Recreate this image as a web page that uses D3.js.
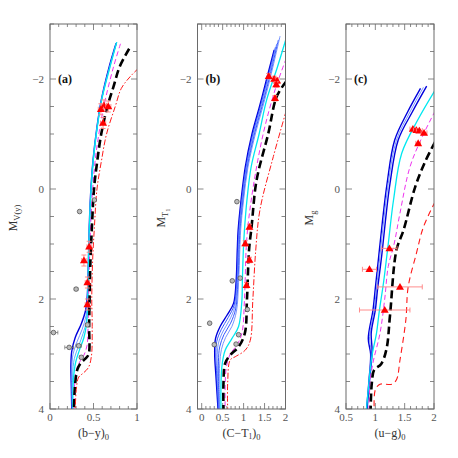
<!DOCTYPE html>
<html><head><meta charset="utf-8">
<script src="https://cdn.jsdelivr.net/npm/d3@7"></script>
<style>body{margin:0;background:#fff}svg{display:block}</style>
</head><body>
<svg id="chart" width="458" height="458"></svg>
<script>
// ---------- DATA ----------
const yDomain = [-3, 4];
const yTickLabels = [-2, 0, 2, 4];
const panelNames = ["(a)", "(b)", "(c)"];
const xDomainA = [0, 1], xDomainB = [-0.1, 2], xDomainC = [0.5, 2];
const xTickLabelsA = [0, 0.5, 1], xTickLabelsB = [0, 0.5, 1, 1.5, 2], xTickLabelsC = [0.5, 1, 1.5, 2];

// Panel (a): [colour index, magnitude]
const aBlue1 = [[0.76,-2.65],[0.68,-2.22],[0.59,-1.62],[0.54,-1.13],[0.495,-0.53],[0.465,0.14],[0.45,0.75],[0.44,1.4],[0.43,1.9],[0.41,2.2],[0.36,2.45],[0.29,2.7],[0.25,2.95],[0.24,3.2],[0.245,3.6],[0.25,4.0]];
const aBlue2 = [[0.765,-2.66],[0.685,-2.22],[0.592,-1.62],[0.542,-1.13],[0.497,-0.53],[0.467,0.14],[0.451,0.75],[0.441,1.4],[0.432,1.95],[0.415,2.3],[0.37,2.55],[0.31,2.78],[0.265,3.0],[0.25,3.3],[0.25,3.7],[0.255,4.0]];
const aBlue3 = [[0.766,-2.66],[0.688,-2.22],[0.593,-1.62],[0.543,-1.13],[0.497,-0.53],[0.467,0.14],[0.451,0.75],[0.441,1.4],[0.433,2.0],[0.418,2.4],[0.38,2.63],[0.33,2.85],[0.28,3.08],[0.26,3.4],[0.258,4.0]];
const aCyan = [[0.767,-2.67],[0.69,-2.22],[0.594,-1.62],[0.544,-1.13],[0.498,-0.53],[0.468,0.14],[0.452,0.75],[0.442,1.4],[0.435,2.05],[0.42,2.45],[0.39,2.7],[0.34,2.92],[0.295,3.15],[0.27,3.45],[0.262,4.0]];
const aMagenta = [[0.81,-2.64],[0.73,-2.22],[0.635,-1.62],[0.575,-1.13],[0.52,-0.53],[0.485,0.14],[0.465,0.75],[0.452,1.4],[0.443,2.0],[0.438,2.5],[0.425,2.85],[0.39,3.02],[0.35,3.12],[0.31,3.25],[0.285,3.5],[0.275,4.0]];
const aBlack = [[0.91,-2.55],[0.80,-2.22],[0.73,-1.86],[0.66,-1.5],[0.59,-1.01],[0.54,-0.47],[0.506,0],[0.48,0.75],[0.465,1.3],[0.455,2.0],[0.45,2.5],[0.445,3.0],[0.41,3.08],[0.36,3.15],[0.315,3.28],[0.29,3.53],[0.275,4.0]];
const aRed = [[1.02,-2.2],[0.92,-2.04],[0.82,-1.83],[0.75,-1.5],[0.65,-1.0],[0.59,-0.5],[0.54,0],[0.51,0.7],[0.49,1.3],[0.48,2.0],[0.485,2.5],[0.475,3.05],[0.44,3.25],[0.38,3.35],[0.33,3.42],[0.305,3.6],[0.29,4.0]];
// red triangles: [colour, mag, xerr, yerr]
const aTriangles = [[0.62,-1.52,0.03,0.1],[0.67,-1.5,0.03,0.1],[0.585,-1.45,0.03,0.1],[0.61,-1.2,0.03,0.1],[0.45,1.05,0.025,0.1],[0.39,1.3,0.025,0.1],[0.43,1.7,0.025,0.1],[0.43,2.1,0.025,0.1]];
// grey open circles: [colour, mag, xerr]
const aCircles = [[0.34,0.41,0.01],[0.51,0.2,0.0],[0.30,1.82,0.02],[0.04,2.61,0.05],[0.22,2.88,0.05],[0.33,2.85,0.03],[0.43,2.47,0.02],[0.36,3.06,0.02]];

// Panel (b)
const bBlue1 = [[1.73,-2.53],[1.55,-2.0],[1.38,-1.5],[1.20,-1.0],[1.04,-0.4],[0.94,0.2],[0.87,0.75],[0.85,1.1],[0.82,1.7],[0.76,2.08],[0.60,2.3],[0.44,2.5],[0.33,2.72],[0.31,3.0],[0.34,3.4],[0.39,4.0]];
const bBlue2 = [[1.76,-2.58],[1.57,-2.0],[1.40,-1.5],[1.22,-1.0],[1.06,-0.4],[0.955,0.2],[0.885,0.75],[0.865,1.1],[0.835,1.7],[0.775,2.11],[0.63,2.34],[0.47,2.55],[0.36,2.77],[0.34,3.04],[0.36,3.4],[0.40,4.0]];
const bBlue3 = [[1.79,-2.64],[1.59,-2.0],[1.42,-1.5],[1.24,-1.0],[1.075,-0.4],[0.97,0.2],[0.90,0.75],[0.88,1.1],[0.85,1.7],[0.79,2.14],[0.66,2.39],[0.50,2.6],[0.395,2.82],[0.37,3.08],[0.38,3.45],[0.41,4.0]];
const bBlue4 = [[1.83,-2.71],[1.61,-2.0],[1.44,-1.5],[1.26,-1.0],[1.09,-0.4],[0.985,0.2],[0.915,0.75],[0.895,1.1],[0.865,1.7],[0.81,2.18],[0.69,2.44],[0.53,2.65],[0.43,2.87],[0.40,3.13],[0.40,3.5],[0.42,4.0]];
const bBlue5 = [[1.87,-2.78],[1.63,-2.0],[1.46,-1.5],[1.28,-1.0],[1.105,-0.4],[1.0,0.2],[0.93,0.75],[0.91,1.1],[0.88,1.7],[0.83,2.22],[0.72,2.5],[0.57,2.7],[0.47,2.92],[0.43,3.18],[0.42,3.55],[0.43,4.0]];
const bCyan = [[2.02,-2.75],[1.80,-2.2],[1.55,-1.62],[1.37,-1.0],[1.18,-0.4],[1.08,0.2],[1.02,0.75],[0.995,1.1],[0.97,1.7],[0.96,2.02],[0.88,2.5],[0.72,2.72],[0.56,2.93],[0.48,3.24],[0.46,4.0]];
const bMagenta = [[2.02,-2.38],[1.75,-1.8],[1.47,-1.01],[1.23,-0.04],[1.10,0.7],[1.06,1.11],[1.02,2.02],[0.96,2.62],[0.84,2.84],[0.68,3.0],[0.58,3.29],[0.56,4.0]];
const bBlack = [[2.02,-1.96],[1.79,-1.68],[1.59,-1.01],[1.31,-0.16],[1.19,0.69],[1.13,1.11],[1.08,2.02],[1.03,2.62],[0.88,2.87],[0.68,3.02],[0.56,3.17],[0.52,3.53],[0.52,4.0]];
const bRed = [[2.02,-1.43],[1.71,-0.59],[1.39,0.38],[1.29,1.11],[1.22,2.02],[1.16,2.75],[1.04,2.93],[0.80,3.05],[0.68,3.11],[0.62,3.53],[0.62,4.0]];
const bTriangles = [[1.60,-2.05,0.03,0.05],[1.73,-2.0,0.03,0.05],[1.80,-1.97,0.03,0.05],[1.78,-1.9,0.03,0.05],[1.75,-1.65,0.03,0.05],[1.14,0.69,0.03,0.05],[1.04,0.99,0.03,0.05],[1.14,1.29,0.03,0.05],[1.07,1.75,0.03,0.05]];
const bCircles = [[0.84,0.23,0.0],[0.73,1.67,0.02],[0.92,1.62,0.02],[0.19,2.44,0.0],[0.30,2.83,0.02],[0.88,2.65,0.02],[1.09,2.19,0.02],[0.82,2.82,0.02]];

// Panel (c)
const cBlue1 = [[1.77,-1.83],[1.55,-1.4],[1.33,-0.89],[1.20,-0.1],[1.12,0.6],[1.06,1.2],[1.0,1.8],[0.96,2.2],[0.88,2.72],[0.92,3.0],[0.89,3.5],[0.85,4.0]];
const cBlue2 = [[1.82,-1.85],[1.59,-1.4],[1.36,-0.89],[1.22,-0.1],[1.14,0.6],[1.08,1.2],[1.02,1.8],[0.98,2.2],[0.90,2.68],[0.93,2.98],[0.89,3.5],[0.855,4.0]];
const cBlue3 = [[1.875,-1.87],[1.63,-1.4],[1.39,-0.89],[1.25,-0.1],[1.17,0.6],[1.11,1.2],[1.04,1.8],[1.0,2.2],[0.93,2.62],[0.945,2.95],[0.90,3.5],[0.86,4.0]];
const cCyan = [[2.02,-1.8],[1.72,-1.25],[1.45,-0.65],[1.31,0.2],[1.22,1.0],[1.14,1.7],[1.07,2.2],[1.02,2.62],[0.94,3.05],[0.88,3.65],[0.85,4.0]];
const cMagenta = [[2.02,-1.42],[1.80,-0.95],[1.59,-0.4],[1.42,0.44],[1.32,1.0],[1.22,1.41],[1.16,2.0],[1.08,2.62],[0.97,3.11],[0.92,3.41],[0.89,4.0]];
const cBlack = [[2.02,-0.86],[1.85,-0.5],[1.68,-0.04],[1.48,0.75],[1.36,1.11],[1.25,2.3],[1.19,2.91],[1.10,3.18],[0.98,3.29],[0.94,3.53],[0.92,4.0]];
const cRed = [[2.02,0.23],[1.82,0.69],[1.70,1.17],[1.56,1.78],[1.52,2.38],[1.42,3.11],[1.36,3.47],[1.28,3.55],[1.08,3.55],[1.0,3.65],[0.98,4.0]];
const cTriangles = [[1.64,-1.09,0.05,0],[1.70,-1.07,0.05,0],[1.75,-1.06,0.05,0],[1.83,-1.02,0.05,0],[1.73,-0.83,0.04,0],[1.24,1.08,0.13,0],[0.90,1.46,0.12,0],[1.42,1.78,0.38,0],[1.16,2.2,0.43,0]];
const cCircles = [];

// ---------- STYLES ----------
const S = {
  blueDark: {stroke:"#0000dd", w:1.4, dash:null},
  blueMid:  {stroke:"#3355ff", w:1.0, dash:null},
  blueLight:{stroke:"#6688ff", w:0.9, dash:null},
  blueSky:  {stroke:"#44aaff", w:0.9, dash:null},
  cyan:     {stroke:"#00e8f0", w:1.3, dash:null},
  magenta:  {stroke:"#ee33ee", w:1.0, dash:"5,3"},
  black:    {stroke:"#000000", w:2.6, dash:"8,4"},
  redDD:    {stroke:"#ff1a1a", w:1.0, dash:"6,2,1.5,2"},
  redD:     {stroke:"#ff1a1a", w:1.1, dash:"6,4"}
};

const panels = [
  {name:panelNames[0], x0:50, x1:137, dom:xDomainA, ticks:xTickLabelsA, xlab:["(b−y)","0"], ylab:["M","V(y)",""],
   lines:[[aBlue1,S.blueDark],[aBlue2,S.blueLight],[aBlue3,S.blueSky],[aCyan,S.cyan],[aMagenta,S.magenta],[aBlack,S.black],[aRed,S.redDD]],
   tri:aTriangles, circ:aCircles},
  {name:panelNames[1], x0:197.5, x1:285.5, dom:xDomainB, ticks:xTickLabelsB, xlab:["(C−T","1",")","0"], ylab:["M","T","1"],
   lines:[[bBlue1,S.blueDark],[bBlue2,S.blueMid],[bBlue3,S.blueLight],[bBlue4,S.blueMid],[bBlue5,S.blueLight],[bCyan,S.cyan],[bMagenta,S.magenta],[bBlack,S.black],[bRed,S.redDD]],
   tri:bTriangles, circ:bCircles},
  {name:panelNames[2], x0:346, x1:434, dom:xDomainC, ticks:xTickLabelsC, xlab:["(u−g)","0"], ylab:["M","g",""],
   lines:[[cBlue1,S.blueDark],[cBlue2,S.blueLight],[cBlue3,S.blueDark],[cCyan,S.cyan],[cMagenta,S.magenta],[cBlack,S.black],[cRed,S.redD]],
   tri:cTriangles, circ:cCircles}
];

const svg = d3.select("#chart");
svg.append("rect").attr("width",458).attr("height",458).attr("fill","#fff");
const Y0 = 24, Y1 = 409;
const font = "Liberation Serif, Times New Roman, DejaVu Serif, serif";
const frameCol = "#6a6a6a";

panels.forEach((p, i) => {
  const x = d3.scaleLinear().domain(p.dom).range([p.x0, p.x1]);
  const y = d3.scaleLinear().domain(yDomain).range([Y0, Y1]);
  const g = svg.append("g");
  const clipId = "clip" + i;
  svg.append("clipPath").attr("id", clipId).append("rect")
    .attr("x", p.x0).attr("y", Y0).attr("width", p.x1 - p.x0).attr("height", Y1 - Y0);

  // x ticks: minor every 0.1, major every 0.5
  const xt = d3.range(Math.ceil(p.dom[0]*10), Math.floor(p.dom[1]*10)+1).map(v => v/10);
  xt.forEach(v => {
    const major = Math.abs(v*2 - Math.round(v*2)) < 1e-6;
    const len = major ? 6 : 3;
    g.append("line").attr("x1",x(v)).attr("x2",x(v)).attr("y1",Y1).attr("y2",Y1-len).attr("stroke",frameCol).attr("stroke-width",0.8);
    g.append("line").attr("x1",x(v)).attr("x2",x(v)).attr("y1",Y0).attr("y2",Y0+len).attr("stroke",frameCol).attr("stroke-width",0.8);
  });
  // y ticks every 0.5
  const yt = d3.range(-6, 9).map(v => v/2);
  yt.forEach(v => {
    const major = yTickLabels.includes(v);
    const len = major ? 6 : 4;
    g.append("line").attr("x1",p.x0).attr("x2",p.x0+len).attr("y1",y(v)).attr("y2",y(v)).attr("stroke",frameCol).attr("stroke-width",0.8);
    g.append("line").attr("x1",p.x1).attr("x2",p.x1-len).attr("y1",y(v)).attr("y2",y(v)).attr("stroke",frameCol).attr("stroke-width",0.8);
  });
  // tick labels
  p.ticks.forEach(v => {
    g.append("text").attr("x", x(v)).attr("y", Y1 + 12).attr("text-anchor","middle")
      .attr("font-family", font).attr("font-size", 11).attr("fill","#555").text(String(v));
  });
  yTickLabels.forEach(v => {
    g.append("text").attr("x", p.x0 - 6).attr("y", y(v) + 3.5).attr("text-anchor","end")
      .attr("font-family", font).attr("font-size", 11).attr("fill","#555").text(v < 0 ? "−" + Math.abs(v) : String(v));
  });

  // isochrone lines
  const lg = g.append("g").attr("clip-path", `url(#${clipId})`);
  const line = d3.line().x(d => x(d[0])).y(d => y(d[1])).curve(d3.curveCatmullRom.alpha(0.5));
  p.lines.forEach(([data, st]) => {
    lg.append("path").attr("d", line(data)).attr("fill","none")
      .attr("stroke", st.stroke).attr("stroke-width", st.w)
      .attr("stroke-dasharray", st.dash).attr("stroke-linecap","butt");
  });

  // grey circles with error bars
  p.circ.forEach(d => {
    const cx = x(d[0]), cy = y(d[1]);
    if (d[2] > 0) {
      lg.append("line").attr("x1", x(d[0]-d[2])).attr("x2", x(d[0]+d[2])).attr("y1", cy).attr("y2", cy).attr("stroke","#777").attr("stroke-width",0.8);
      [d[0]-d[2], d[0]+d[2]].forEach(e => lg.append("line").attr("x1",x(e)).attr("x2",x(e)).attr("y1",cy-2).attr("y2",cy+2).attr("stroke","#777").attr("stroke-width",0.8));
    }
    lg.append("circle").attr("cx", cx).attr("cy", cy).attr("r", 2.3).attr("fill","#bbb").attr("stroke","#555").attr("stroke-width",0.8);
  });

  // red triangles with error bars
  const errCol = "#ff8080";
  p.tri.forEach(d => {
    const cx = x(d[0]), cy = y(d[1]);
    if (d[2] > 0) {
      lg.append("line").attr("x1", x(d[0]-d[2])).attr("x2", x(d[0]+d[2])).attr("y1", cy).attr("y2", cy).attr("stroke",errCol).attr("stroke-width",0.9);
      [d[0]-d[2], d[0]+d[2]].forEach(e => lg.append("line").attr("x1",x(e)).attr("x2",x(e)).attr("y1",cy-2.5).attr("y2",cy+2.5).attr("stroke",errCol).attr("stroke-width",0.9));
    }
    if (d[3] > 0) {
      lg.append("line").attr("x1", cx).attr("x2", cx).attr("y1", y(d[1]-d[3])).attr("y2", y(d[1]+d[3])).attr("stroke",errCol).attr("stroke-width",0.9);
      [d[1]-d[3], d[1]+d[3]].forEach(e => lg.append("line").attr("x1",cx-2.5).attr("x2",cx+2.5).attr("y1",y(e)).attr("y2",y(e)).attr("stroke",errCol).attr("stroke-width",0.9));
    }
    const s = 4;
    lg.append("path").attr("d", `M${cx},${cy-s} L${cx+s},${cy+s*0.7} L${cx-s},${cy+s*0.7} Z`).attr("fill","#ff0000");
  });

  // frame
  g.append("rect").attr("x", p.x0).attr("y", Y0).attr("width", p.x1 - p.x0).attr("height", Y1 - Y0)
    .attr("fill","none").attr("stroke", frameCol).attr("stroke-width", 1);

  // panel label
  g.append("text").attr("x", p.x0 + 8).attr("y", y(-2) + 4).attr("font-family", font)
    .attr("font-weight","bold").attr("font-size", 12).attr("fill","#111").text(p.name);

  // x label
  const xl = g.append("text").attr("x", (p.x0 + p.x1)/2).attr("y", 437).attr("text-anchor","middle")
    .attr("font-family", font).attr("font-size", 12).attr("fill","#333");
  if (p.xlab.length === 2) {
    xl.append("tspan").text(p.xlab[0]);
    xl.append("tspan").attr("font-size", 8.5).attr("dy", 3).text(p.xlab[1]);
  } else {
    xl.append("tspan").text(p.xlab[0]);
    xl.append("tspan").attr("font-size", 7.5).attr("dy", 2).text(p.xlab[1]);
    xl.append("tspan").attr("dy", -2).text(p.xlab[2]);
    xl.append("tspan").attr("font-size", 8.5).attr("dy", 3).text(p.xlab[3]);
  }

  // y label (rotated)
  const ylx = p.x0 - 33, yly = 218;
  const yl = g.append("text").attr("transform", `translate(${ylx},${yly}) rotate(-90)`).attr("text-anchor","middle")
    .attr("font-family", font).attr("font-size", 12).attr("fill","#333");
  yl.append("tspan").text(p.ylab[0]);
  yl.append("tspan").attr("font-size", 8.5).attr("dy", 3).text(p.ylab[1]);
  if (p.ylab[2]) yl.append("tspan").attr("font-size", 6.5).attr("dy", 2).text(p.ylab[2]);
});
</script>
</body></html>
